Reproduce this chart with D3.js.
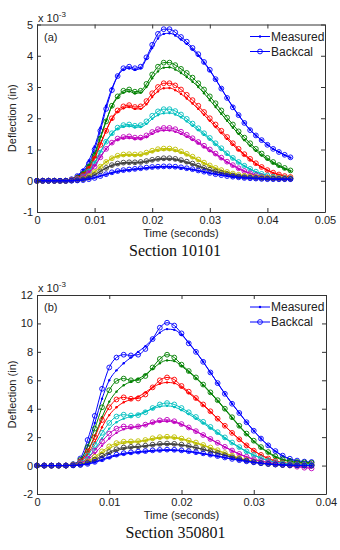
<!DOCTYPE html>
<html>
<head>
<meta charset="utf-8">
<script src="https://cdn.jsdelivr.net/npm/d3@7"></script>
<style>
  html, body { margin: 0; padding: 0; background: #fff; }
  text { font-family: "Liberation Sans", Arial, sans-serif; }
</style>
</head>
<body>
<svg id="chart" width="340" height="550"></svg>
<script>
// colour order of the drops (MATLAB default, wraps round to blue)
var dropColors = ['#0000ff', '#008000', '#ff0000', '#00bfbf', '#bf00bf', '#bfbf00', '#404040', '#0000ff'];

// ---- Section 10101 (a) ----
var timeA = [0, 0.001, 0.002, 0.003, 0.004, 0.005, 0.006, 0.007, 0.008, 0.009,
             0.010, 0.011, 0.012, 0.013, 0.014, 0.015, 0.016, 0.017, 0.018, 0.019,
             0.020, 0.021, 0.022, 0.023, 0.024, 0.025, 0.026, 0.027, 0.028, 0.029,
             0.030, 0.031, 0.032, 0.033, 0.034, 0.035, 0.036, 0.037, 0.038, 0.039,
             0.040, 0.041, 0.042, 0.043, 0.044];
var xTicksA = [0, 0.01, 0.02, 0.03, 0.04, 0.05];
var yTicksA = [-1, 0, 1, 2, 3, 4, 5];

var measuredA = [
  [0,0,0,0,0,0,0.05,0.17,0.35,0.65,1.1,1.7,2.4,2.95,3.35,3.55,3.6,3.55,3.6,3.9,4.25,4.55,4.7,4.72,4.65,4.52,4.38,4.2,4.0,3.78,3.52,3.25,2.95,2.65,2.37,2.1,1.85,1.63,1.45,1.3,1.15,1.02,0.92,0.82,0.74],
  [0,0,0,0,0,0,0.04,0.12,0.26,0.5,0.88,1.4,1.92,2.38,2.66,2.82,2.86,2.8,2.82,3.0,3.28,3.5,3.62,3.63,3.56,3.45,3.32,3.17,3.0,2.8,2.58,2.36,2.14,1.92,1.7,1.5,1.3,1.12,0.96,0.81,0.68,0.56,0.46,0.38,0.31],
  [0,0,0,0,0,0,0.03,0.1,0.21,0.42,0.75,1.18,1.6,1.97,2.2,2.32,2.36,2.3,2.3,2.45,2.68,2.86,2.96,2.97,2.9,2.78,2.63,2.47,2.3,2.11,1.92,1.72,1.53,1.34,1.15,0.98,0.82,0.67,0.54,0.43,0.33,0.25,0.19,0.15,0.12],
  [0,0,0,0,0,0,0.02,0.07,0.16,0.32,0.58,0.92,1.25,1.5,1.66,1.73,1.75,1.71,1.72,1.82,1.98,2.1,2.16,2.17,2.12,2.03,1.9,1.76,1.62,1.47,1.32,1.16,1.0,0.85,0.71,0.58,0.47,0.37,0.28,0.21,0.16,0.12,0.1,0.09,0.08],
  [0,0,0,0,0,0,0.02,0.06,0.14,0.27,0.48,0.76,1.02,1.2,1.31,1.36,1.37,1.34,1.34,1.4,1.5,1.58,1.61,1.61,1.57,1.5,1.41,1.31,1.2,1.08,0.96,0.84,0.71,0.59,0.48,0.38,0.3,0.23,0.17,0.13,0.1,0.08,0.07,0.07,0.06],
  [0,0,0,0,0,0,0.01,0.04,0.08,0.16,0.29,0.45,0.6,0.71,0.78,0.81,0.82,0.81,0.82,0.87,0.93,0.97,0.99,0.99,0.96,0.9,0.83,0.74,0.65,0.56,0.47,0.39,0.32,0.27,0.22,0.18,0.15,0.13,0.11,0.1,0.09,0.09,0.08,0.08,0.07],
  [0,0,0,0,0,0,0.01,0.03,0.06,0.11,0.19,0.3,0.4,0.48,0.53,0.56,0.57,0.57,0.58,0.61,0.65,0.68,0.69,0.69,0.67,0.63,0.58,0.52,0.46,0.4,0.34,0.29,0.24,0.2,0.16,0.13,0.11,0.1,0.08,0.07,0.07,0.06,0.06,0.06,0.05],
  [0,0,0,0,0,0,0,0.01,0.03,0.06,0.1,0.15,0.2,0.25,0.29,0.32,0.34,0.36,0.38,0.4,0.42,0.43,0.44,0.44,0.43,0.41,0.38,0.35,0.32,0.28,0.24,0.21,0.18,0.15,0.12,0.1,0.09,0.08,0.07,0.06,0.05,0.05,0.05,0.04,0.04]
];
var backcalA = [
  [0,0,0,0,0,0,0.05,0.15,0.3,0.55,1.0,1.6,2.3,2.9,3.35,3.6,3.65,3.6,3.65,3.95,4.35,4.7,4.85,4.85,4.75,4.6,4.45,4.25,4.05,3.8,3.55,3.25,2.95,2.65,2.35,2.1,1.85,1.62,1.45,1.3,1.15,1.02,0.92,0.83,0.75],
  [0,0,0,0,0,0,0.03,0.1,0.22,0.45,0.8,1.35,1.9,2.4,2.7,2.88,2.92,2.85,2.88,3.1,3.4,3.65,3.78,3.78,3.7,3.58,3.45,3.3,3.12,2.92,2.7,2.48,2.25,2.02,1.8,1.58,1.38,1.2,1.02,0.87,0.73,0.6,0.5,0.41,0.33],
  [0,0,0,0,0,0,0.03,0.08,0.18,0.38,0.7,1.15,1.6,2.0,2.25,2.38,2.42,2.36,2.38,2.55,2.8,3.0,3.12,3.12,3.05,2.92,2.75,2.58,2.4,2.2,2.0,1.8,1.6,1.4,1.2,1.02,0.85,0.7,0.56,0.44,0.34,0.26,0.2,0.15,0.12],
  [0,0,0,0,0,0,0.02,0.06,0.14,0.3,0.55,0.9,1.25,1.52,1.7,1.78,1.8,1.76,1.78,1.9,2.08,2.22,2.29,2.29,2.23,2.12,1.98,1.83,1.68,1.52,1.37,1.2,1.04,0.88,0.73,0.6,0.48,0.38,0.29,0.22,0.17,0.13,0.1,0.09,0.08],
  [0,0,0,0,0,0,0.02,0.05,0.12,0.25,0.45,0.75,1.02,1.22,1.35,1.4,1.42,1.38,1.38,1.45,1.56,1.65,1.69,1.69,1.65,1.57,1.47,1.36,1.24,1.12,1.0,0.87,0.74,0.61,0.5,0.4,0.31,0.24,0.18,0.14,0.11,0.09,0.08,0.07,0.07],
  [0,0,0,0,0,0,0.01,0.03,0.07,0.15,0.28,0.45,0.6,0.72,0.8,0.84,0.85,0.84,0.85,0.9,0.96,1.01,1.03,1.03,1.0,0.94,0.86,0.77,0.68,0.58,0.49,0.41,0.34,0.28,0.23,0.19,0.16,0.14,0.12,0.11,0.1,0.09,0.09,0.08,0.08],
  [0,0,0,0,0,0,0.01,0.02,0.05,0.1,0.18,0.3,0.41,0.5,0.55,0.58,0.59,0.59,0.6,0.63,0.67,0.7,0.72,0.72,0.7,0.66,0.61,0.55,0.48,0.41,0.35,0.3,0.25,0.21,0.17,0.14,0.12,0.1,0.09,0.08,0.07,0.07,0.06,0.06,0.06],
  [0,0,0,0,0,0,0,0.01,0.02,0.05,0.09,0.15,0.21,0.27,0.31,0.34,0.36,0.38,0.4,0.42,0.44,0.45,0.46,0.46,0.45,0.43,0.4,0.37,0.33,0.29,0.25,0.21,0.18,0.15,0.13,0.11,0.09,0.08,0.07,0.06,0.05,0.05,0.05,0.05,0.05]
];

// ---- Section 350801 (b) ----
var timeB = [0, 0.001, 0.002, 0.003, 0.004, 0.005, 0.006, 0.007, 0.008, 0.009,
             0.010, 0.011, 0.012, 0.013, 0.014, 0.015, 0.016, 0.017, 0.018, 0.019,
             0.020, 0.021, 0.022, 0.023, 0.024, 0.025, 0.026, 0.027, 0.028, 0.029,
             0.030, 0.031, 0.032, 0.033, 0.034, 0.035, 0.036, 0.037, 0.038];
var xTicksB = [0, 0.01, 0.02, 0.03, 0.04];
var yTicksB = [-2, 0, 2, 4, 6, 8, 10, 12];

var measuredB = [
  [0,0,0,0,0,0.05,0.35,1.4,3.0,4.7,6.0,6.7,7.2,7.6,8.0,8.4,8.9,9.35,9.6,9.55,9.2,8.65,8.0,7.3,6.55,5.8,5.05,4.35,3.7,3.05,2.45,1.9,1.42,1.0,0.68,0.45,0.3,0.22,0.2],
  [0,0,0,0,0,0.05,0.3,1.0,2.1,3.4,4.5,5.2,5.65,5.9,6.1,6.4,6.8,7.2,7.4,7.35,7.0,6.6,6.15,5.65,5.1,4.55,3.95,3.35,2.75,2.2,1.7,1.25,0.9,0.6,0.4,0.28,0.2,0.17,0.15],
  [0,0,0,0,0,0.04,0.25,0.8,1.65,2.7,3.55,4.1,4.45,4.65,4.85,5.15,5.5,5.75,5.85,5.8,5.5,5.1,4.7,4.25,3.78,3.28,2.78,2.3,1.85,1.42,1.05,0.75,0.5,0.32,0.2,0.13,0.1,0.08,0.08],
  [0,0,0,0,0,0.03,0.18,0.55,1.15,1.9,2.6,3.05,3.3,3.45,3.6,3.8,4.0,4.15,4.2,4.12,3.9,3.62,3.3,2.98,2.63,2.28,1.92,1.58,1.26,0.97,0.72,0.52,0.35,0.23,0.15,0.1,0.07,0.06,0.05],
  [0,0,0,0,0,0.03,0.14,0.4,0.85,1.4,1.9,2.3,2.55,2.65,2.75,2.85,3.0,3.1,3.12,3.05,2.88,2.65,2.4,2.13,1.85,1.58,1.3,1.04,0.8,0.6,0.43,0.3,0.2,0.12,0.05,0.0,-0.05,-0.1,-0.12],
  [0,0,0,0,0,0.02,0.08,0.25,0.52,0.88,1.2,1.45,1.58,1.63,1.67,1.75,1.85,1.93,1.96,1.94,1.85,1.72,1.57,1.41,1.23,1.05,0.86,0.68,0.52,0.38,0.27,0.18,0.12,0.07,0.04,0.02,0.01,0,0],
  [0,0,0,0,0,0.01,0.05,0.16,0.35,0.6,0.85,1.05,1.18,1.25,1.3,1.36,1.43,1.48,1.5,1.48,1.43,1.35,1.25,1.13,1.0,0.86,0.72,0.58,0.45,0.34,0.24,0.16,0.1,0.06,0.03,0.02,0.01,0,0],
  [0,0,0,0,0,0.01,0.03,0.1,0.22,0.38,0.55,0.7,0.8,0.87,0.92,0.97,1.02,1.05,1.07,1.06,1.03,0.97,0.9,0.82,0.73,0.64,0.55,0.46,0.37,0.29,0.22,0.16,0.11,0.07,0.04,0.02,0.01,0,0]
];
var backcalB = [
  [0,0,0,0,0,0.1,0.5,1.8,3.5,5.4,6.9,7.6,7.8,7.75,7.8,8.2,8.9,9.7,10.05,9.85,9.3,8.6,8.0,7.3,6.55,5.8,5.05,4.35,3.7,3.05,2.45,1.9,1.42,1.02,0.7,0.48,0.35,0.28,0.25],
  [0,0,0,0,0,0.08,0.4,1.3,2.6,4.1,5.3,5.95,6.12,6.0,6.0,6.3,6.9,7.5,7.8,7.6,7.1,6.65,6.2,5.7,5.15,4.6,4.0,3.4,2.8,2.25,1.75,1.3,0.95,0.65,0.45,0.32,0.25,0.22,0.2],
  [0,0,0,0,0,0.06,0.3,1.0,2.0,3.2,4.1,4.65,4.8,4.7,4.72,5.0,5.5,6.0,6.2,6.05,5.6,5.2,4.75,4.3,3.82,3.3,2.8,2.3,1.85,1.42,1.05,0.75,0.5,0.32,0.2,0.13,0.1,0.08,0.08],
  [0,0,0,0,0,0.05,0.22,0.7,1.45,2.3,3.0,3.45,3.58,3.52,3.55,3.75,4.05,4.3,4.4,4.3,4.05,3.75,3.42,3.08,2.72,2.35,1.98,1.62,1.3,1.0,0.75,0.53,0.36,0.24,0.16,0.11,0.08,0.07,0.06],
  [0,0,0,0,0,0.04,0.17,0.5,1.05,1.7,2.25,2.6,2.75,2.72,2.75,2.88,3.05,3.18,3.22,3.12,2.92,2.68,2.42,2.15,1.87,1.6,1.32,1.06,0.82,0.62,0.45,0.32,0.22,0.15,0.05,0,-0.08,-0.15,-0.2],
  [0,0,0,0,0,0.03,0.1,0.3,0.62,1.0,1.35,1.58,1.68,1.7,1.72,1.8,1.92,2.0,2.03,2.0,1.9,1.77,1.62,1.45,1.27,1.08,0.88,0.7,0.53,0.39,0.28,0.19,0.13,0.08,0.05,0.03,0.02,0.01,0],
  [0,0,0,0,0,0.02,0.07,0.2,0.42,0.7,0.95,1.15,1.27,1.32,1.35,1.4,1.47,1.53,1.55,1.53,1.47,1.38,1.27,1.15,1.02,0.88,0.73,0.59,0.46,0.35,0.25,0.17,0.11,0.07,0.04,0.02,0.01,0,0],
  [0,0,0,0,0,0.01,0.04,0.12,0.26,0.44,0.62,0.77,0.87,0.93,0.98,1.02,1.07,1.1,1.12,1.11,1.07,1.01,0.94,0.86,0.77,0.67,0.57,0.47,0.38,0.3,0.23,0.17,0.12,0.08,0.05,0.03,0.02,0.01,0]
];

var legendLabels = ['Measured', 'Backcal'];

var svg = d3.select('#chart');

drawPanel({
    top: 24.5, bottom: 212, left: 37, right: 325,
    xDomain: [0, 0.05], yDomain: [-1, 5],
    xTicks: xTicksA, yTicks: yTicksA,
    time: timeA, measured: measuredA, backcal: backcalA,
    tag: '(a)', section: 'Section 10101'
});
drawPanel({
    top: 295, bottom: 494, left: 37, right: 326,
    xDomain: [0, 0.04], yDomain: [-2, 12],
    xTicks: xTicksB, yTicks: yTicksB,
    time: timeB, measured: measuredB, backcal: backcalB,
    tag: '(b)', section: 'Section 350801'
});

function drawPanel(p) {
    var x = d3.scaleLinear().domain(p.xDomain).range([p.left, p.right]),
        y = d3.scaleLinear().domain(p.yDomain).range([p.bottom, p.top]),
        g = svg.append('g'),
        line = d3.line()
            .x(function(d) { return x(d[0]); })
            .y(function(d) { return y(d[1]); })
            .curve(d3.curveMonotoneX);

    g.append('rect')
        .attr('x', p.left).attr('y', p.top)
        .attr('width', p.right - p.left).attr('height', p.bottom - p.top)
        .attr('fill', '#fff');

    // curves: each drop, measured ('.-') and backcalculated ('o-')
    p.measured.forEach(function(vals, i) {
        var col = dropColors[i],
            pts = vals.map(function(v, j) { return [p.time[j], v]; }),
            bpts = p.backcal[i].map(function(v, j) { return [p.time[j], v]; });

        g.append('path').datum(pts)
            .attr('d', line).attr('fill', 'none')
            .attr('stroke', col).attr('stroke-width', 1);
        g.append('g').selectAll('circle').data(pts).enter().append('circle')
            .attr('cx', function(d) { return x(d[0]); })
            .attr('cy', function(d) { return y(d[1]); })
            .attr('r', 1.2).attr('fill', col);

        g.append('path').datum(bpts)
            .attr('d', line).attr('fill', 'none')
            .attr('stroke', col).attr('stroke-width', 1);
        g.append('g').selectAll('circle').data(bpts).enter().append('circle')
            .attr('cx', function(d) { return x(d[0]); })
            .attr('cy', function(d) { return y(d[1]); })
            .attr('r', 2.4).attr('fill', 'none')
            .attr('stroke', col).attr('stroke-width', 0.9);
    });

    // axes, MATLAB style: inward ticks on all four sides
    var fmt = function(d) { return String(d); };
    g.append('g').attr('transform', 'translate(0,' + p.bottom + ')')
        .call(d3.axisBottom(x).tickValues(p.xTicks).tickFormat(fmt).tickSize(-4).tickSizeOuter(0).tickPadding(4));
    g.append('g').attr('transform', 'translate(0,' + p.top + ')')
        .call(d3.axisTop(x).tickValues(p.xTicks).tickFormat('').tickSize(-4).tickSizeOuter(0));
    g.append('g').attr('transform', 'translate(' + p.left + ',0)')
        .call(d3.axisLeft(y).tickValues(p.yTicks).tickFormat(fmt).tickSize(-4).tickSizeOuter(0).tickPadding(4));
    g.append('g').attr('transform', 'translate(' + p.right + ',0)')
        .call(d3.axisRight(y).tickValues(p.yTicks).tickFormat('').tickSize(-4).tickSizeOuter(0));
    g.selectAll('.domain, .tick line').attr('stroke', '#333');
    g.selectAll('.tick text')
        .style('font-family', '"Liberation Sans", Arial, sans-serif')
        .style('font-size', '11px').attr('fill', '#222');

    // exponent label
    var ex = g.append('text').attr('x', p.left + 1).attr('y', p.top - 3)
        .style('font-size', '11px').attr('fill', '#222');
    ex.append('tspan').text('x 10');
    ex.append('tspan').attr('dy', -5).style('font-size', '8px').text('-3');

    g.append('text').attr('x', p.left + 7).attr('y', p.top + 16)
        .style('font-size', '11px').attr('fill', '#222').text(p.tag);

    // legend
    legendLabels.forEach(function(lab, i) {
        var ly = p.top + 12 + i * 15;
        g.append('line').attr('x1', 250).attr('x2', 270).attr('y1', ly).attr('y2', ly)
            .attr('stroke', dropColors[0]).attr('stroke-width', 1);
        if (i === 0) {
            g.append('circle').attr('cx', 260).attr('cy', ly).attr('r', 1.2).attr('fill', dropColors[0]);
        } else {
            g.append('circle').attr('cx', 260).attr('cy', ly).attr('r', 2.4)
                .attr('fill', 'none').attr('stroke', dropColors[0]).attr('stroke-width', 0.9);
        }
        g.append('text').attr('x', 271).attr('y', ly + 4)
            .style('font-size', '12px').attr('fill', '#222').text(lab);
    });

    // titles
    var cx = (p.left + p.right) / 2, cy = (p.top + p.bottom) / 2;
    g.append('text').attr('text-anchor', 'middle')
        .attr('transform', 'translate(16,' + cy + ') rotate(-90)')
        .style('font-size', '11px').attr('fill', '#222').text('Deflection (in)');
    g.append('text').attr('text-anchor', 'middle').attr('x', cx).attr('y', p.bottom + 25)
        .style('font-size', '11px').attr('fill', '#222').text('Time (seconds)');
    g.append('text').attr('text-anchor', 'middle').attr('x', cx - 6).attr('y', p.bottom + 44)
        .style('font-family', '"Liberation Serif", "Times New Roman", serif')
        .style('font-size', '16px').attr('fill', '#111').text(p.section);
}
</script>
</body>
</html>
